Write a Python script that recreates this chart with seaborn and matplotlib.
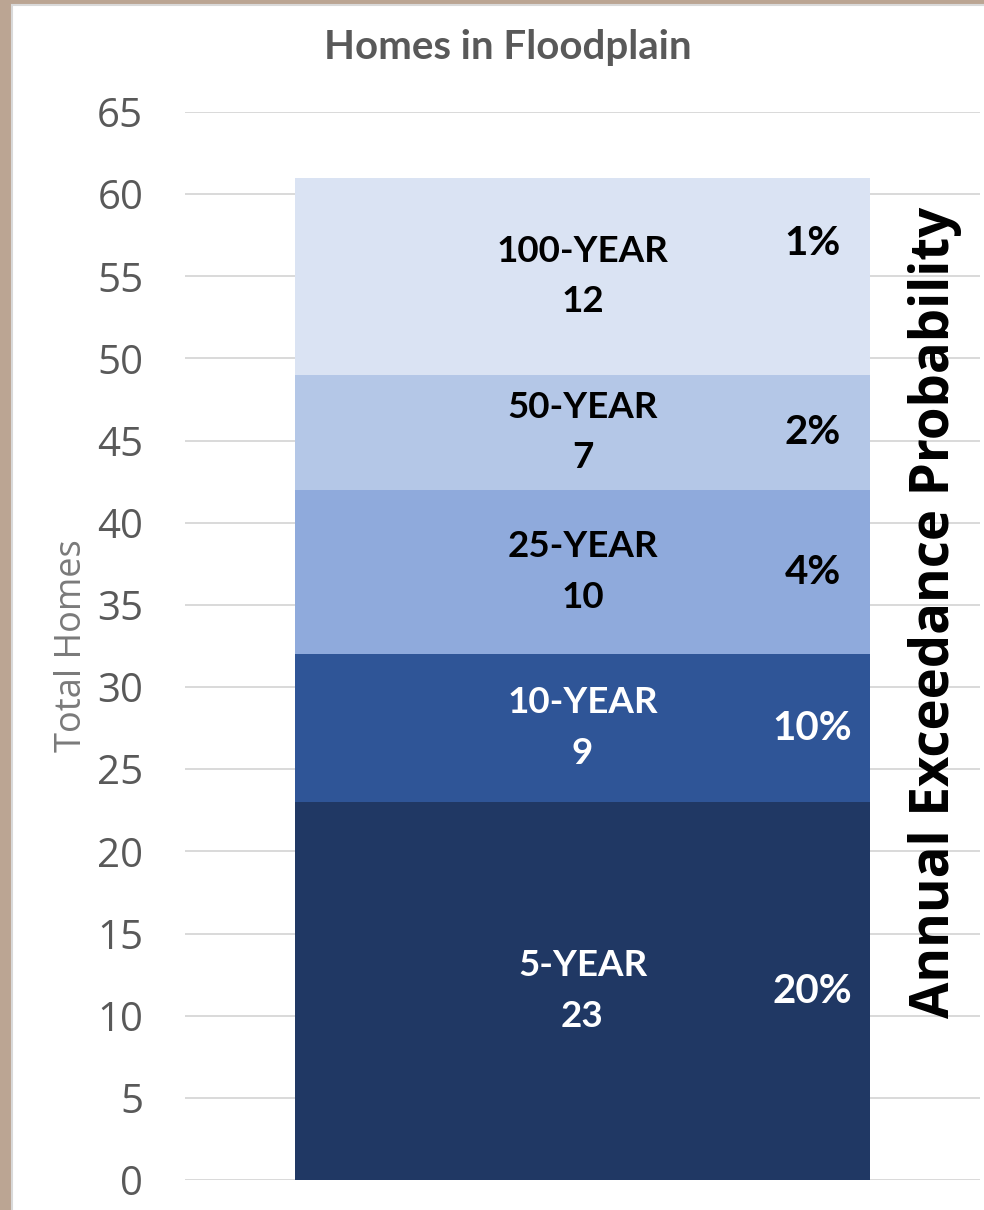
import matplotlib
matplotlib.use("Agg")
import matplotlib.pyplot as plt
import seaborn as sns
from matplotlib.patches import Rectangle

# data
periods = ["5-YEAR", "10-YEAR", "25-YEAR", "50-YEAR", "100-YEAR"]
homes = [23, 9, 10, 7, 12]
aep = ["20%", "10%", "4%", "2%", "1%"]
colors = ["#203864", "#2F5597", "#8FAADC", "#B4C7E7", "#DAE3F3"]
text_colors = ["white", "white", "black", "black", "black"]
yticks = list(range(0, 70, 5))

sns.set_style("white")
plt.rcParams["font.family"] = ["Open Sans", "DejaVu Sans"]

W, H = 984, 1210
fig = plt.figure(figsize=(W / 100, H / 100), dpi=100, facecolor="#BBA593")
# white page with thin grey rim, as in the screenshot
fig.patches.append(Rectangle((12 / W, -0.01), 1.0, 1 - 5 / H + 0.01,
                             transform=fig.transFigure, facecolor="white",
                             edgecolor="#D9D9D9", linewidth=1.5, zorder=-5))

ax = fig.add_axes([185 / W, 30 / H, 795 / W, (1180 - 112) / H])
ax.set_facecolor("none")

bottom = 0
for name, val, col in zip(periods, homes, colors):
    sns.barplot(x=["Homes"], y=[val], bottom=bottom, color=col, saturation=1,
                width=0.8, linewidth=0, ax=ax, zorder=3)
    bottom += val

ax.set_ylim(0, 65)
ax.set_xlim(-0.553, 0.553)
ax.set_yticks(yticks)
ax.set_yticklabels([str(t) for t in yticks], fontsize=29, color="#595959")
ax.tick_params(axis="y", length=0, pad=30)
ax.set_xticks([])
ax.set_xlabel("")
ax.set_ylabel("Total Homes", fontsize=26, color="#7A7A7A", labelpad=5)
ax.yaxis.grid(True, color="#D9D9D9", linewidth=1.4, zorder=0)
ax.set_axisbelow(True)
for s in ax.spines.values():
    s.set_visible(False)

# segment labels
bold = ["Lato", "DejaVu Sans"]
bottom = 0
for i, (name, val, pct, tc) in enumerate(zip(periods, homes, aep, text_colors)):
    mid = bottom + val / 2
    ax.text(0, mid, f"{name}\n{val}", ha="center", va="center", fontsize=26.5,
            fontweight="bold", color=tc, family=bold, linespacing=1.65, zorder=5)
    shift = 2 if i == len(periods) - 1 else 0
    ax.text(0.32, mid + shift, pct, ha="center", va="center", fontsize=29,
            fontweight="bold", color=tc, family=bold, zorder=5)
    bottom += val

fig.text(508 / W, 1 - 48 / H, "Homes in Floodplain", ha="center", va="center",
         fontsize=29, fontweight="bold", color="#595959", family=bold)
fig.text(935 / W, 1 - 612 / H, "Annual Exceedance Probability", rotation=90,
         ha="center", va="center", fontsize=38, fontweight="bold", color="black")

fig.savefig("out.png", dpi=100, facecolor=fig.get_facecolor())
